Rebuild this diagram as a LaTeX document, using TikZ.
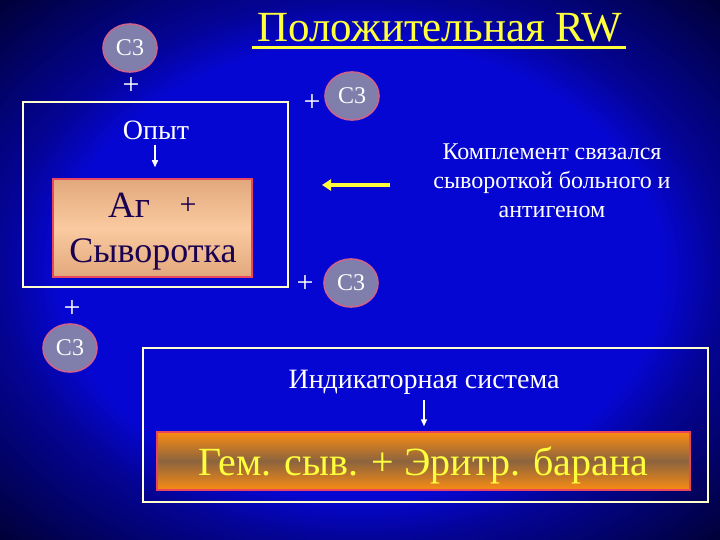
\documentclass[tikz,border=0pt]{standalone}
\usepackage{fontspec}
\setmainfont{Liberation Serif}
\usetikzlibrary{arrows.meta,shadings,shapes.geometric}
\definecolor{bgin}{RGB}{6,6,210}
\definecolor{bgmid}{RGB}{4,4,150}
\definecolor{bgout}{RGB}{0,0,50}
\definecolor{circfill}{RGB}{128,126,170}
\definecolor{circedge}{RGB}{205,100,140}
\definecolor{framecol}{RGB}{255,255,205}
\definecolor{tanlight}{RGB}{250,202,160}
\definecolor{tandark}{RGB}{226,168,124}
\definecolor{redge}{RGB}{235,70,95}
\definecolor{orangecol}{RGB}{250,140,20}
\definecolor{browncol}{RGB}{140,100,62}
\definecolor{titleyellow}{RGB}{255,255,60}
\definecolor{inknavy}{RGB}{25,0,80}
\pgfdeclareradialshading{bgshade}{\pgfpoint{0bp}{0bp}}{color(0bp)=(bgin); color(21bp)=(bgin); color(25bp)=(bgmid); color(36bp)=(bgout); color(50bp)=(bgout)}
\tikzset{
  cthree/.style={ellipse,draw=circedge,line width=1.6pt,fill=circfill,minimum width=54pt,minimum height=48pt,inner sep=0pt,text=white,font=\fontsize{24}{24}\selectfont},
  plussign/.style={text=white,font=\fontsize{30}{30}\selectfont,inner sep=0pt},
  whitetext/.style={text=white,align=center,inner sep=0pt},
  framebox/.style={draw=framecol,line width=2pt},
  warrow/.style={draw=white,line width=1.5pt,-{Triangle[width=6pt,length=7pt]}},
}
\begin{document}
\begin{tikzpicture}[x=1pt,y=-1pt]
\useasboundingbox (0,0) rectangle (720,540);
\shade[shading=bgshade] (0,0) rectangle (720,540);
% title
\node[text=titleyellow,font=\fontsize{43}{43}\selectfont,anchor=base,inner sep=0pt] (title) at (440,42) {Положительная RW};
\draw[titleyellow,line width=3pt] (252,48) -- (626,48);
% upper frame
\draw[framebox] (23,102) rectangle (288,287);
\node[cthree] (c1) at (130,48) {С3};
\node[plussign] (p1) at (131,86) {+};
\node[whitetext,font=\fontsize{28}{28}\selectfont] (opyt) at (156,130) {Опыт};
\node[draw=redge,line width=1.5pt,top color=tandark,bottom color=tandark,middle color=tanlight,minimum width=199pt,minimum height=98pt,inner sep=0pt] (ag) at (152.5,228) {};
\node[text=inknavy,font=\fontsize{37}{37}\selectfont,inner sep=0pt,anchor=base] (agt) at (129,218) {Аг};
\node[text=inknavy,font=\fontsize{30}{30}\selectfont,inner sep=0pt] (agp) at (188,206) {+};
\node[text=inknavy,font=\fontsize{36}{36}\selectfont,inner sep=0pt,anchor=base] (syv) at (153,262) {Сыворотка};
\draw[warrow,shorten >=11pt] (155,145) -- (ag.north -| 155,0);
% right side
\node[plussign] (p2) at (312,103) {+};
\node[cthree] (c2) at (352,96) {С3};
\node[whitetext,font=\fontsize{24}{29}\selectfont] (comp) at (552,181) {Комплемент связался\\сывороткой больного и\\антигеном};
\coordinate (ytip) at (322,185);
\coordinate (ystart) at (390,185);
\draw[titleyellow,line width=4pt,-{Triangle[width=11pt,length=9pt]}] (ystart) -- (ytip);
\node[plussign] (p3) at (305,284) {+};
\node[cthree] (c3) at (351,283) {С3};
\node[plussign] (p4) at (72,309) {+};
\node[cthree] (c4) at (70,348) {С3};
% lower frame
\draw[framebox] (143,348) rectangle (708,502);
\node[whitetext,font=\fontsize{28}{28}\selectfont] (ind) at (424,382) {Индикаторная система};
\node[draw=redge,line width=1.5pt,top color=orangecol,bottom color=orangecol,middle color=browncol,minimum width=533pt,minimum height=58pt,inner sep=0pt] (gem) at (423.5,461) {};
\node[text=titleyellow,font=\fontsize{40}{40}\selectfont,inner sep=0pt,anchor=base] (gemt) at (423.5,475) {Гем. сыв. + Эритр. барана};
\draw[warrow,shorten >=5pt] (424,400) -- (gem.north -| 424,0);
\end{tikzpicture}
\end{document}
